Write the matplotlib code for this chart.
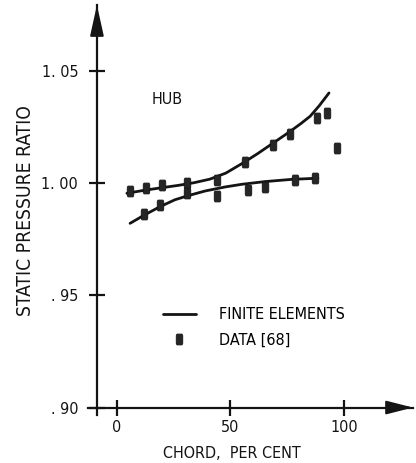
import matplotlib
matplotlib.use("Agg")
import matplotlib.pyplot as plt
from matplotlib.path import Path
from matplotlib import font_manager as fm

# Finite element solution, two branches of the hub static pressure distribution
chord_fe_upper = [4.5, 12.0, 20.0, 27.0, 34.0, 41.0, 48.0, 55.5, 62.0, 68.5, 76.0, 81.0, 85.0, 89.0, 93.3]
ratio_fe_upper = [0.9955, 0.9968, 0.9980, 0.9990, 1.0002, 1.0018, 1.0045, 1.0090, 1.0132, 1.0177,
                  1.0229, 1.0266, 1.0298, 1.0345, 1.0402]

chord_fe_lower = [5.9, 12.0, 19.0, 25.6, 31.3, 38.8, 47.6, 55.0, 65.2, 77.0, 88.4]
ratio_fe_lower = [0.9821, 0.9857, 0.9895, 0.9926, 0.9944, 0.9965, 0.9983, 0.9995, 1.0007, 1.0017, 1.0022]

# Measured data [68]
chord_data = [5.8, 12.9, 19.8, 30.8, 43.9, 11.8, 19.0, 31.1, 43.9, 56.4,
              57.8, 65.2, 68.8, 76.1, 78.4, 87.3, 87.9, 92.3, 96.7]
ratio_data = [0.9963, 0.9979, 0.9993, 1.0000, 1.0012, 0.9864, 0.9904, 0.9954, 0.9943, 1.0096,
              0.9970, 0.9983, 1.0170, 1.0217, 1.0014, 1.0022, 1.0289, 1.0312, 1.0156]

x_ticks = [0, 50, 100]
x_tick_labels = ["0", "50", "100"]
y_ticks = [0.90, 0.95, 1.00, 1.05]
y_tick_labels = [". 90", ". 95", "1. 00", "1. 05"]

ink = "#141414"

# Pick a narrow sans face for the lettering
entries = fm.fontManager.ttflist
names = {f.name for f in entries}
if "Liberation Sans Narrow" in names:
    face = dict(family="Liberation Sans Narrow", stretch="normal")
    scale = 1.0
elif any(f.name == "DejaVu Sans" and "condensed" in str(f.stretch) for f in entries):
    face = dict(family="DejaVu Sans", stretch="condensed")
    scale = 0.92
else:
    face = dict(family="Liberation Sans", stretch="normal")
    scale = 0.84


def font(size):
    return fm.FontProperties(family=face["family"], stretch=face["stretch"], size=size * scale)


W, H = 416, 463
fig = plt.figure(figsize=(W / 100, H / 100), dpi=100)
fig.patch.set_facecolor("white")

x_min, x_max = -12.5, 130.2
y_min, y_max = 0.8965, 1.0794
x_cross, y_cross = -8.66, 0.90

ax = fig.add_axes([88.2 / W, 1 - 415.4 / H, (413 - 88.2) / W, (415.4 - 5) / H])
ax.set_xlim(x_min, x_max)
ax.set_ylim(y_min, y_max)
ax.set_facecolor("white")

for side in ("top", "right"):
    ax.spines[side].set_visible(False)
ax.spines["left"].set_position(("data", x_cross))
ax.spines["bottom"].set_position(("data", y_cross))
for side in ("left", "bottom"):
    ax.spines[side].set_linewidth(1.6)
    ax.spines[side].set_color(ink)

ax.set_xticks(x_ticks)
ax.set_xticklabels(x_tick_labels, fontproperties=font(12.5), color=ink)
ax.set_yticks(y_ticks)
ax.set_yticklabels(y_tick_labels, fontproperties=font(12.5), color=ink)
ax.tick_params(axis="both", direction="inout", length=11, width=1.6, color=ink)
ax.tick_params(axis="y", pad=8)
ax.tick_params(axis="x", pad=3.5)

# Arrow heads on both axes
ax.annotate("", xy=(x_cross, y_max), xytext=(x_cross, y_max - 0.006),
            arrowprops=dict(arrowstyle="-|>,head_length=1.9,head_width=0.42",
                            color=ink, lw=1.4, shrinkA=0, shrinkB=0),
            annotation_clip=False)
ax.annotate("", xy=(x_max, y_cross), xytext=(x_max - 5, y_cross),
            arrowprops=dict(arrowstyle="-|>,head_length=1.65,head_width=0.42",
                            color=ink, lw=1.4, shrinkA=0, shrinkB=0),
            annotation_clip=False)

# Tall rounded block used for the data symbols
block = Path([(-0.55, -0.85), (-0.6, -0.7), (-0.6, 0.7), (-0.55, 0.85), (-0.45, 1.0),
              (0.45, 1.0), (0.55, 0.85), (0.6, 0.7), (0.6, -0.7), (0.55, -0.85),
              (0.45, -1.0), (-0.45, -1.0), (-0.55, -0.85)])

fe_line, = ax.plot(chord_fe_upper, ratio_fe_upper, color=ink, lw=2.0,
                   solid_capstyle="round", solid_joinstyle="round", label="FINITE ELEMENTS")
ax.plot(chord_fe_lower, ratio_fe_lower, color=ink, lw=2.0,
        solid_capstyle="round", solid_joinstyle="round")
data_pts, = ax.plot(chord_data, ratio_data, linestyle="none", marker=block,
                    markersize=7.8, markerfacecolor="#262626",
                    markeredgecolor=ink, markeredgewidth=0.6, label="DATA [68]")

ax.text(15.4, 1.0371, "HUB", fontproperties=font(12.5), color=ink,
        ha="left", va="center")

ax.legend(handles=[fe_line, data_pts], loc="center left",
          bbox_to_anchor=(163 / W, 1 - 327.5 / H), bbox_transform=fig.transFigure,
          frameon=False, borderpad=0, borderaxespad=0, handlelength=1.9 / scale,
          handletextpad=1.35 / scale, labelspacing=0.62 / scale, numpoints=1,
          prop=font(12.5))

fig.text(26 / W, 1 - 211 / H, "STATIC PRESSURE RATIO", rotation=90,
         fontproperties=font(15.0), color=ink, ha="center", va="center")
fig.text(231.7 / W, 1 - 453 / H, "CHORD,  PER CENT", fontproperties=font(12.5),
         color=ink, ha="center", va="center")

fig.savefig("out.png", dpi=100, facecolor="white")
